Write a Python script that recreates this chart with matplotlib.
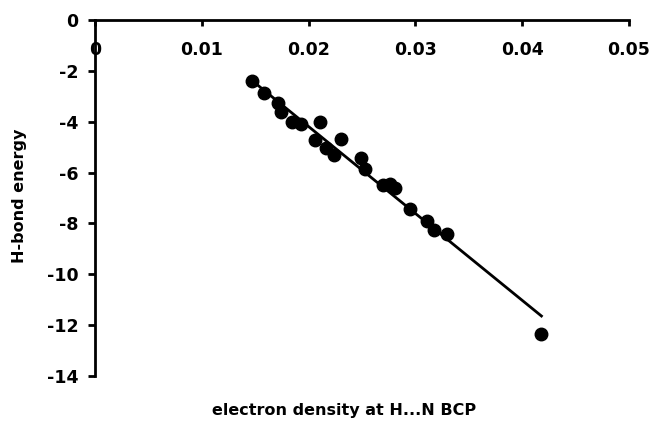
import numpy as np
import matplotlib
matplotlib.use('Agg')
import matplotlib.pyplot as plt

# electron density at the H...N bond critical point
density = [0.0147, 0.0158, 0.0171, 0.0174, 0.0184, 0.0193, 0.0211, 0.0206,
           0.0216, 0.0224, 0.0230, 0.0249, 0.0253, 0.0270, 0.0276, 0.0281,
           0.0295, 0.0311, 0.0317, 0.0330, 0.0418]
# H-bond energy
energy = [-2.40, -2.89, -3.28, -3.63, -4.03, -4.09, -4.00, -4.70,
          -5.03, -5.31, -4.69, -5.41, -5.87, -6.50, -6.45, -6.60,
          -7.44, -7.90, -8.27, -8.40, -12.34]

xticks = [0, 0.01, 0.02, 0.03, 0.04, 0.05]
xticklabels = ['0', '0.01', '0.02', '0.03', '0.04', '0.05']
yticks = [0, -2, -4, -6, -8, -10, -12, -14]

plt.rcParams['font.family'] = 'DejaVu Sans'
plt.rcParams['font.weight'] = 'bold'

fig = plt.figure(figsize=(6.55, 4.21), dpi=100)
ax = fig.add_axes([95/655, 1-376/421, (629-95)/655, (376-20)/421])

ax.plot(density, energy, 'o', color='black', markersize=9, zorder=3)

# linear trend line
slope, icpt = np.polyfit(density, energy, 1)
xs = np.array([min(density), max(density)])
ax.plot(xs, slope*xs + icpt, color='black', lw=2, zorder=2)

ax.set_xlim(0, 0.05)
ax.set_ylim(-14, 0)

ax.spines['right'].set_visible(False)
ax.spines['top'].set_visible(False)
ax.spines['bottom'].set_position(('data', 0))
for s in ('left', 'bottom'):
    ax.spines[s].set_linewidth(2)

ax.set_xticks(xticks)
ax.set_xticklabels(xticklabels)
ax.set_yticks(yticks)
ax.set_yticklabels([str(t) for t in yticks])
ax.tick_params(axis='x', direction='out', length=4, width=2, pad=11,
               labelsize=12.5)
ax.tick_params(axis='y', direction='out', length=5, width=2, pad=7,
               labelsize=12.5)
for lab in ax.get_xticklabels() + ax.get_yticklabels():
    lab.set_fontweight('bold')

fig.text(344/655, 1-410/421, 'electron density at H...N BCP',
         ha='center', va='center', fontsize=11.5, fontweight='bold')
fig.text(20/655, 1-196/421, 'H-bond energy', rotation=90,
         ha='center', va='center', fontsize=11.5, fontweight='bold')

fig.savefig('out.png', dpi=100)
